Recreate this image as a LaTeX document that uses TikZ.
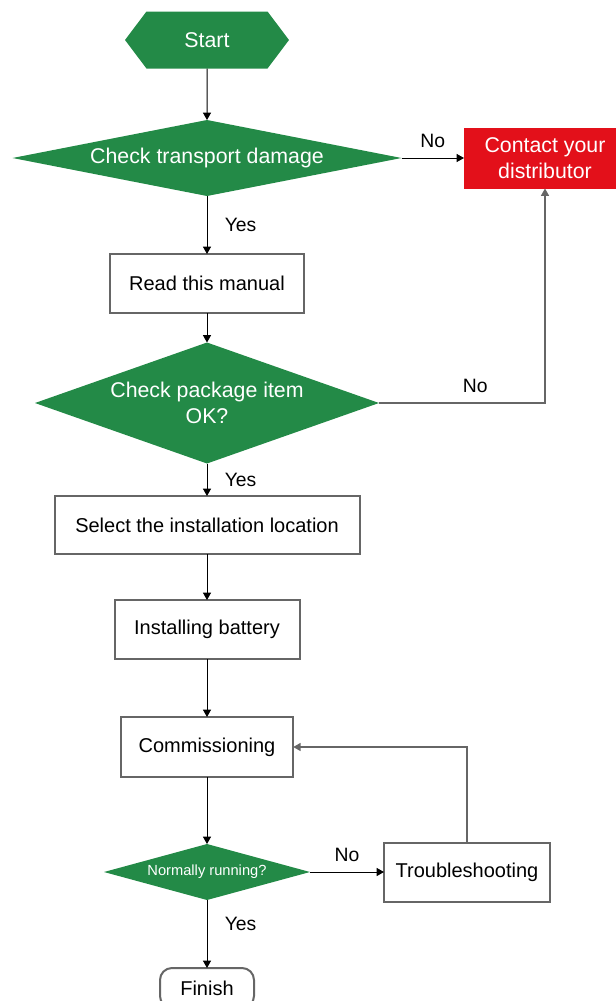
\documentclass[tikz,border=0pt]{standalone}
\usepackage{fontspec}
\setmainfont{Liberation Sans}
\usetikzlibrary{shapes.geometric,shapes.symbols,positioning,arrows.meta}
\definecolor{flowgreen}{HTML}{238A47}
\definecolor{flowred}{HTML}{E3101A}
\begin{document}
\begin{tikzpicture}[x=0.75pt,y=-0.75pt,
	decision/.style={diamond, fill=flowgreen, text=white, inner sep=0pt, outer sep=0pt, align=center, font=\fontsize{16}{19}\selectfont},
	stepbox/.style={draw=black!60, line width=1.5pt, fill=white, inner sep=0pt, outer sep=0pt, font=\fontsize{15}{18}\selectfont},
	link/.style={black, line width=0.75pt, -{Triangle[length=5.5pt,width=6pt]}},
	back/.style={link, black!60, line width=1pt},
	lbl/.style={inner sep=0pt, font=\fontsize{14.5}{16}\selectfont}]
	\useasboundingbox (0,0) rectangle (616,1001);
	\node[signal, signal to=west and east, signal pointer angle=106, fill=flowgreen, text=white, minimum width=123pt, minimum height=42.75pt, inner sep=0pt, outer sep=0pt, font=\fontsize{16}{19}\selectfont] (start) at (207,40) {Start};
	\node[decision, aspect=5.1, minimum width=291.75pt, minimum height=57pt] (transport) at (207,158) {Check transport damage};
	\node[fill=flowred, text=white, align=center, minimum width=121.5pt, minimum height=45.75pt, inner sep=0pt, outer sep=0pt, font=\fontsize{16}{19}\selectfont] (contact) at (545,158) {Contact your\\distributor};
	\node[stepbox, minimum width=145.5pt, minimum height=44.25pt] (manual) at (207,283.5) {Read this manual};
	\node[decision, aspect=2.84, minimum width=258pt, minimum height=90.75pt] (package) at (207,403) {Check package item\\OK?};
	\node[stepbox, minimum width=228.75pt, minimum height=43.5pt] (location) at (207,525) {Select the installation location};
	\node[stepbox, minimum width=138.75pt, minimum height=44.25pt] (battery) at (207,629.5) {Installing battery};
	\node[stepbox, minimum width=129.4pt, minimum height=45pt] (commission) at (207,747) {Commissioning};
	\node[decision, aspect=3.7, minimum width=154.5pt, minimum height=42pt, font=\fontsize{11}{13}\selectfont] (running) at (207,872) {Normally running?};
	\node[stepbox, minimum width=124.5pt, minimum height=44.25pt] (trouble) at (467,872) {Troubleshooting};
	\node[stepbox, rounded corners=9pt, minimum width=70.5pt, minimum height=30pt] (finish) at (207,988) {Finish};
	\draw[link] (start) -- (transport);
	\draw[link] (transport) -- node[lbl, above=7pt] (no1) {No} (contact);
	\draw[link] (transport) -- node[lbl, right=13pt] (yes1) {Yes} (manual);
	\draw[link] (manual) -- (package);
	\draw[link] (package) -- node[lbl, right=13pt] (yes2) {Yes} (location);
	\draw[back] (package) -| node[lbl, text=black, pos=0.29, above=7pt] (no2) {No} (contact);
	\draw[link] (location) -- (battery);
	\draw[link] (battery) -- (commission);
	\draw[link] (commission) -- (running);
	\draw[link] (running) -- node[lbl, above=7pt] (no3) {No} (trouble);
	\draw[link] (running) -- node[lbl, pos=0.35, right=13pt] (yes3) {Yes} (finish);
	\draw[back] (trouble) |- (commission);
\end{tikzpicture}
\end{document}
